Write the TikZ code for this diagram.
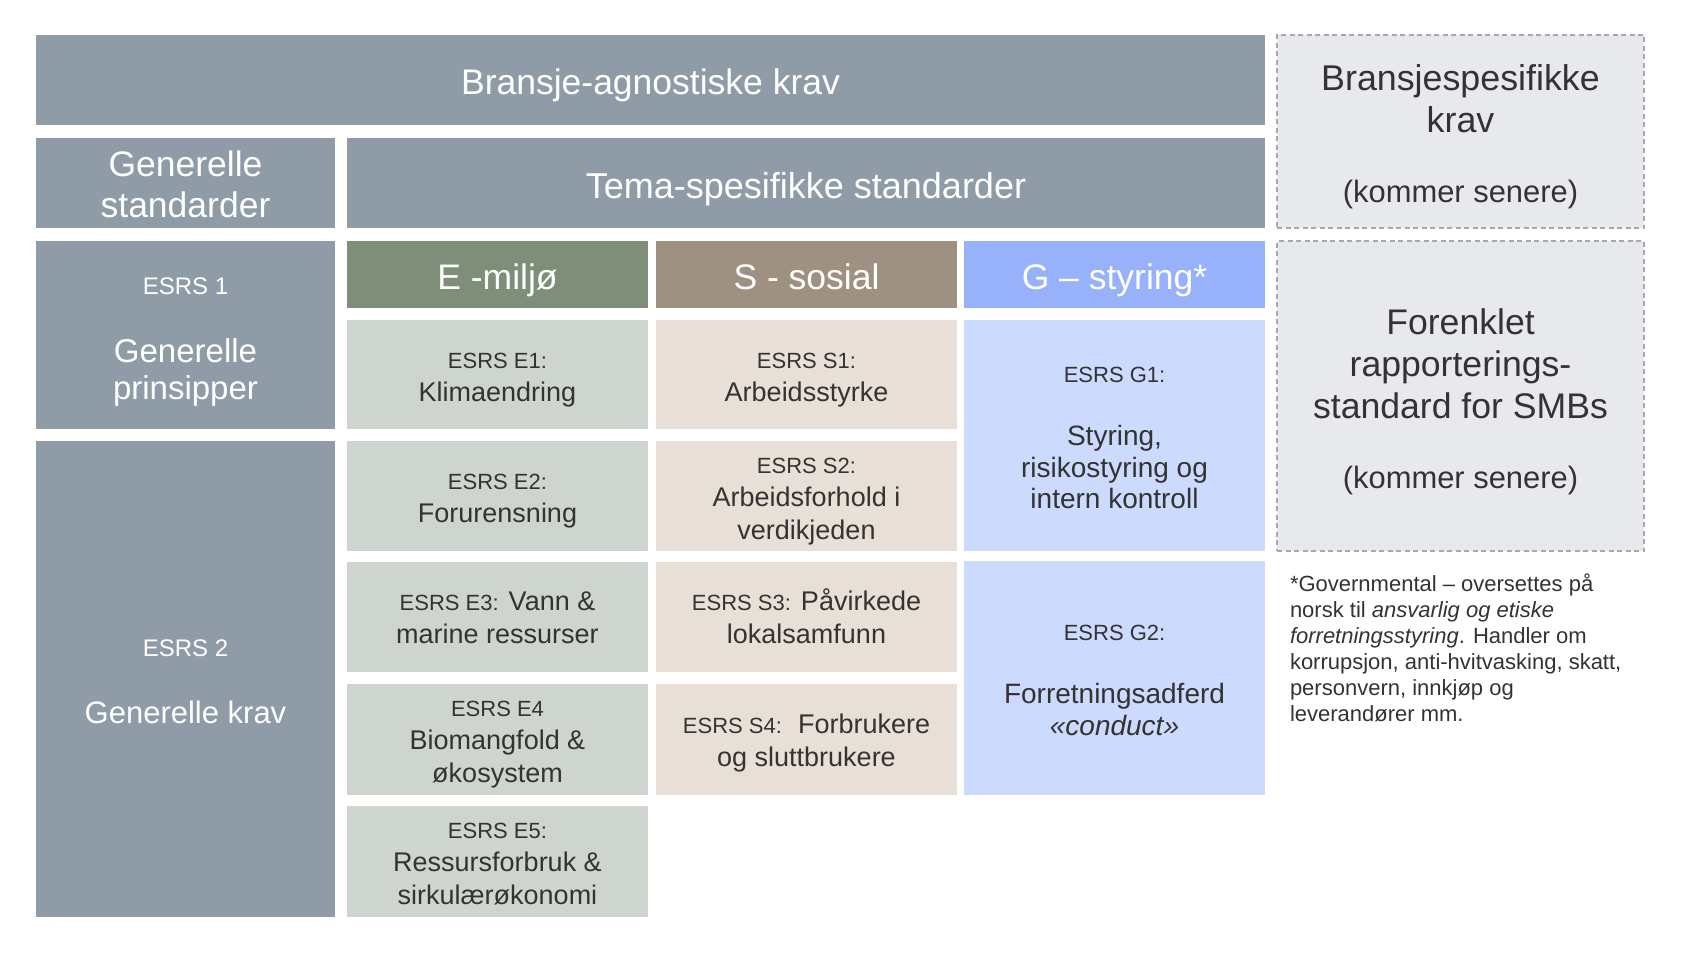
\documentclass[tikz,border=0pt]{standalone}
\usepackage{fontspec}
\setmainfont{Liberation Sans}
\definecolor{slate}{HTML}{8F9CA7}
\definecolor{ehead}{HTML}{7F8E79}
\definecolor{shead}{HTML}{9F9181}
\definecolor{ghead}{HTML}{97B2FB}
\definecolor{ecell}{HTML}{CED5CE}
\definecolor{scell}{HTML}{E8DFD6}
\definecolor{gcell}{HTML}{CBDAFD}
\definecolor{dashfill}{HTML}{E8E9EC}
\definecolor{dashline}{HTML}{A5A9AF}
\definecolor{ink}{HTML}{333333}
\newcommand\myfs[2]{\fontsize{#1}{#2}\selectfont}
\newcommand\eslbl[1]{{\myfs{22}{33}#1}}
\newcommand\glbl[1]{{\myfs{22}{31.5}#1}}
\newcommand\tbeg[1]{\rule{0pt}{#1}}
\newcommand\cst{\tbeg{27.6pt}}
\begin{document}
\begin{tikzpicture}[x=1pt,y=-1pt,
  tfix/.style={execute at end node={\rule[-0.25em]{0pt}{0pt}}},
  box/.style={rectangle, inner sep=0pt, outer sep=0pt, align=center, tfix},
  darkbox/.style={box, fill=slate, text=white},
  headbox/.style={box, text=white, minimum width=301, minimum height=67, font=\myfs{35.5}{41}},
  ebox/.style={box, fill=ecell, text=ink, minimum width=301, font=\myfs{27}{33}},
  sbox/.style={box, fill=scell, text=ink, minimum width=301, font=\myfs{27}{33}},
  gbox/.style={box, fill=gcell, text=ink, minimum width=301, font=\myfs{28}{31.5}},
  dashbox/.style={box, fill=dashfill, draw=dashline, line width=1.3pt, dash pattern=on 5pt off 3.5pt, text=ink, minimum width=367},
  notebox/.style={rectangle, inner sep=0pt, outer sep=0pt, align=left, anchor=north west, text=ink, font=\myfs{22}{26}}
]
\useasboundingbox (0,0) rectangle (1700,955);
\fill[white] (0,0) rectangle (1700,955);

% top rows
\node[darkbox, minimum width=1229, minimum height=90, font=\myfs{35.5}{41}] (top) at (650.5,80) {\tbeg{37.3pt}Bransje-agnostiske krav};
\node[darkbox, minimum width=299, minimum height=90, font=\myfs{35.5}{41}] (gen) at (185.5,183) {\tbeg{37.3pt}Generelle\\standarder};
\node[darkbox, minimum width=918, minimum height=90, font=\myfs{36}{41}] (tema) at (806,183) {\tbeg{39.8pt}Tema-spesifikke standarder};

% left column
\node[darkbox, minimum width=299, minimum height=188, font=\myfs{33}{37}] (esrs1) at (185.5,335) {\tbeg{31.4pt}{\myfs{24}{37}ESRS 1}\\[31pt]Generelle\\prinsipper};
\node[darkbox, minimum width=299, minimum height=476, font=\myfs{31}{37}] (esrs2) at (185.5,679) {\tbeg{29.3pt}{\myfs{24}{37}ESRS 2}\\[30pt]Generelle krav};

% headers
\node[headbox, fill=ehead] (ehd) at (497.5,274.5) {\tbeg{38.3pt}E -miljø};
\node[headbox, fill=shead] (shd) at (806.5,274.5) {\tbeg{38.3pt}S - sosial};
\node[headbox, fill=ghead] (ghd) at (1114.5,274.5) {\tbeg{38.3pt}G – styring*};

% E column
\node[ebox, minimum height=109] (e1) at (497.5,374.5) {\cst\eslbl{ESRS E1:}\\Klimaendring};
\node[ebox, minimum height=110] (e2) at (497.5,496) {\cst\eslbl{ESRS E2:}\\Forurensning};
\node[ebox, minimum height=110] (e3) at (497.5,617) {\cst\eslbl{ESRS E3:} Vann \&\\marine ressurser};
\node[ebox, minimum height=111] (e4) at (497.5,739.5) {\cst\eslbl{ESRS E4}\\Biomangfold \&\\økosystem};
\node[ebox, minimum height=111] (e5) at (497.5,861.5) {\cst\eslbl{ESRS E5:}\\Ressursforbruk \&\\sirkulærøkonomi};

% S column
\node[sbox, minimum height=109] (s1) at (806.5,374.5) {\cst\eslbl{ESRS S1:}\\Arbeidsstyrke};
\node[sbox, minimum height=110] (s2) at (806.5,496) {\cst\eslbl{ESRS S2:}\\Arbeidsforhold i\\verdikjeden};
\node[sbox, minimum height=110] (s3) at (806.5,617) {\cst\eslbl{ESRS S3:} Påvirkede\\lokalsamfunn};
\node[sbox, minimum height=111] (s4) at (806.5,739.5) {\cst\eslbl{ESRS S4:}\hspace{16pt}Forbrukere\\og sluttbrukere};

% G column
\node[gbox, minimum height=231] (g1) at (1114.5,435.5) {\tbeg{27.1pt}\glbl{ESRS G1:}\\[32pt]Styring,\\risikostyring og\\intern kontroll};
\node[gbox, minimum height=234] (g2) at (1114.5,678) {\tbeg{26.8pt}\glbl{ESRS G2:}\\[32pt]Forretningsadferd\\\textit{«conduct»}};

% right column
\node[dashbox, minimum height=193, font=\myfs{35.8}{41.2}] (bransje) at (1460.5,131.5) {\tbeg{39.6pt}Bransjespesifikke\\krav\\[29.3pt]{\myfs{30.9}{41.2}(kommer senere)}};
\node[dashbox, minimum height=310, font=\myfs{35.6}{41.7}] (smb) at (1460.5,396) {\tbeg{40.4pt}Forenklet\\rapporterings-\\standard for SMBs\\[28.7pt]{\myfs{30.9}{41.7}(kommer senere)}};

\node[notebox] (note) at (1290,573.5) {*Governmental – oversettes på\\norsk til \textit{ansvarlig og etiske}\\\textit{forretningsstyring}. Handler om\\korrupsjon, anti-hvitvasking, skatt,\\personvern, innkjøp og\\leverandører mm.};
\end{tikzpicture}
\end{document}
